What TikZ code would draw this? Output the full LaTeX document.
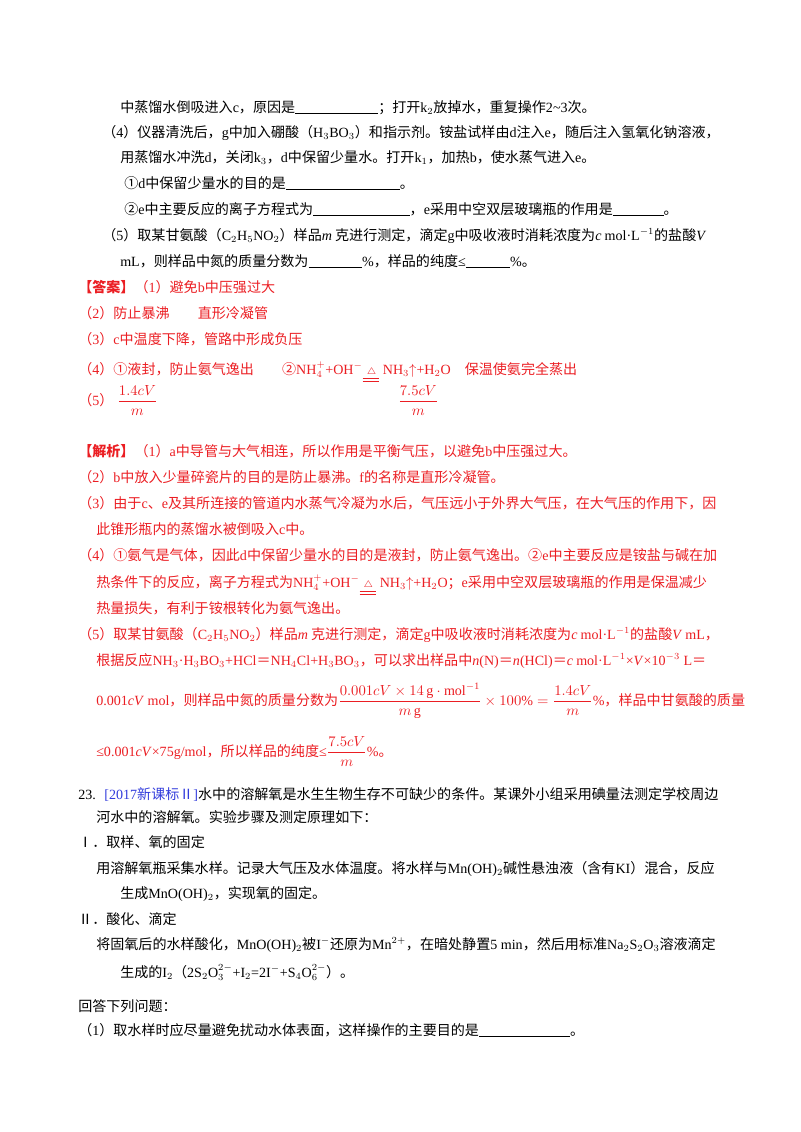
\documentclass[tikz,border=0pt]{standalone}
\usepackage{amsmath}
\usepackage{fontspec}
\setmainfont{Liberation Serif}
\newfontfamily\cjk{Noto Sans CJK SC}
\newfontfamily\latin{Liberation Serif}
\usetikzlibrary{positioning}
\definecolor{ansred}{RGB}{235,30,35}
\definecolor{srcblue}{RGB}{50,60,220}
% switch fonts between CJK and Latin runs
\XeTeXinterchartokenstate=1
\newXeTeXintercharclass\CJKcls
\newcount\cjkc
\def\cjkrange#1#2{\cjkc=#1\relax
  \loop\XeTeXcharclass\cjkc=\CJKcls\ifnum\cjkc<#2\advance\cjkc by 1\repeat}
\cjkrange{"3000}{"303F}
\cjkrange{"4E00}{"9FFF}
\cjkrange{"FF00}{"FFEF}
\cjkrange{"2460}{"2473}
\cjkrange{"2160}{"216B}
\XeTeXinterchartoks 0 \CJKcls = {\cjk}
\XeTeXinterchartoks 4095 \CJKcls = {\cjk}
\XeTeXinterchartoks \CJKcls 0 = {\latin}
\XeTeXinterchartoks 4095 0 = {\latin}
\newcommand{\blank}[1]{\rule[-1.5pt]{#1}{0.5pt}}
\newcommand{\heat}{$\underline{\underline{\;\scriptstyle\triangle\;}}$}
\begin{document}
\begin{tikzpicture}
  [
    x = 0.02625cm, y = -0.02625cm,
    txt/.style = {anchor = base west, inner sep = 0pt,
                  font = \fontsize{10.5}{12}\selectfont},
    ans/.style = {txt, text = ansred},
  ]
  \useasboundingbox (0,0) rectangle (800,1132);
  % question (continued)
  \node[txt] (q3) at (120,112) {中蒸馏水倒吸进入c，原因是\blank{62pt}；打开k$_2$放掉水，重复操作2\textasciitilde3次。};
  \node[txt] (q4a) at (102,137) {（4）仪器清洗后，g中加入硼酸（H$_3$BO$_3$）和指示剂。铵盐试样由d注入e，随后注入氢氧化钠溶液，};
  \node[txt] (q4b) at (120,162) {用蒸馏水冲洗d，关闭k$_3$，d中保留少量水。打开k$_1$，加热b，使水蒸气进入e。};
  \node[txt] (q4c) at (124,188) {①d中保留少量水的目的是\blank{85pt}。};
  \node[txt] (q4d) at (124,214) {②e中主要反应的离子方程式为\blank{72pt}，e采用中空双层玻璃瓶的作用是\blank{38pt}。};
  \node[txt] (q5a) at (102,240) {（5）取某甘氨酸（C$_2$H$_5$NO$_2$）样品\textit{m} 克进行测定，滴定g中吸收液时消耗浓度为\textit{c} mol·L$^{-1}$的盐酸\textit{V}};
  \node[txt] (q5b) at (120,266) {mL，则样品中氮的质量分数为\blank{40pt}\%，样品的纯度≤\blank{33pt}\%。};
  % answers
  \node[ans] (a1) at (78,292) {\textbf{【答案】}（1）避免b中压强过大};
  \node[ans] (a2) at (78,318) {（2）防止暴沸\quad\quad 直形冷凝管};
  \node[ans] (a3) at (78,344) {（3）c中温度下降，管路中形成负压};
  \node[ans] (a4) at (78,374) {（4）①液封，防止氨气逸出\quad\quad ②NH$_4^+$+OH$^-$\heat{} NH$_3$$\uparrow$+H$_2$O\quad 保温使氨完全蒸出};
  \node[ans] (a5) at (78,405) {（5）\;$\dfrac{1.4cV}{m}$};
  \node[ans] (a5b) at (398,405) {$\dfrac{7.5cV}{m}$};
  % analysis
  \node[ans] (b1) at (78,456) {\textbf{【解析】}（1）a中导管与大气相连，所以作用是平衡气压，以避免b中压强过大。};
  \node[ans] (b2) at (78,482) {（2）b中放入少量碎瓷片的目的是防止暴沸。f的名称是直形冷凝管。};
  \node[ans] (b3a) at (78,508) {（3）由于c、e及其所连接的管道内水蒸气冷凝为水后，气压远小于外界大气压，在大气压的作用下，因};
  \node[ans] (b3b) at (96,534) {此锥形瓶内的蒸馏水被倒吸入c中。};
  \node[ans] (b4a) at (78,560) {（4）①氨气是气体，因此d中保留少量水的目的是液封，防止氨气逸出。②e中主要反应是铵盐与碱在加};
  \node[ans] (b4b) at (96,587) {热条件下的反应，离子方程式为NH$_4^+$+OH$^-$\heat{} NH$_3$$\uparrow$+H$_2$O；e采用中空双层玻璃瓶的作用是保温减少};
  \node[ans] (b4c) at (96,613) {热量损失，有利于铵根转化为氨气逸出。};
  \node[ans] (b5a) at (78,639) {（5）取某甘氨酸（C$_2$H$_5$NO$_2$）样品\textit{m} 克进行测定，滴定g中吸收液时消耗浓度为\textit{c} mol·L$^{-1}$的盐酸\textit{V} mL，};
  \node[ans] (b5b) at (96,665) {根据反应NH$_3$·H$_3$BO$_3$+HCl＝NH$_4$Cl+H$_3$BO$_3$，可以求出样品中\textit{n}(N)＝\textit{n}(HCl)＝\textit{c} mol·L$^{-1}$×\textit{V}×10$^{-3}$ L＝};
  \node[ans] (b5c) at (96,705) {0.001\textit{cV} mol，则样品中氮的质量分数为$\dfrac{0.001cV\times 14\,\mathrm{g\cdot mol^{-1}}}{m\,\mathrm{g}}\times 100\%=\dfrac{1.4cV}{m}\%$，样品中甘氨酸的质量};
  \node[ans] (b5d) at (96,756) {≤0.001\textit{cV}×75g/mol，所以样品的纯度≤$\dfrac{7.5cV}{m}\%$。};
  % next question
  \node[txt] (p23) at (78,799) {23.\; \textcolor{srcblue}{[2017新课标Ⅱ]}水中的溶解氧是水生生物生存不可缺少的条件。某课外小组采用碘量法测定学校周边};
  \node[txt] (p23b) at (96,822) {河水中的溶解氧。实验步骤及测定原理如下：};
  \node[txt] (s1) at (78,847) {Ⅰ．取样、氧的固定};
  \node[txt] (s1a) at (96,873) {用溶解氧瓶采集水样。记录大气压及水体温度。将水样与Mn(OH)$_2$碱性悬浊液（含有KI）混合，反应};
  \node[txt] (s1b) at (120,898) {生成MnO(OH)$_2$，实现氧的固定。};
  \node[txt] (s2) at (78,924) {Ⅱ．酸化、滴定};
  \node[txt] (s2a) at (96,949) {将固氧后的水样酸化，MnO(OH)$_2$被I$^-$还原为Mn$^{2+}$，在暗处静置5 min，然后用标准Na$_2$S$_2$O$_3$溶液滴定};
  \node[txt] (s2b) at (120,977) {生成的I$_2$（2S$_2$O$_3^{2-}$+I$_2$=2I$^-$+S$_4$O$_6^{2-}$）。};
  \node[txt] (ask) at (78,1011) {回答下列问题：};
  \node[txt] (ask1) at (78,1035) {（1）取水样时应尽量避免扰动水体表面，这样操作的主要目的是\blank{68pt}。};
\end{tikzpicture}
\end{document}
